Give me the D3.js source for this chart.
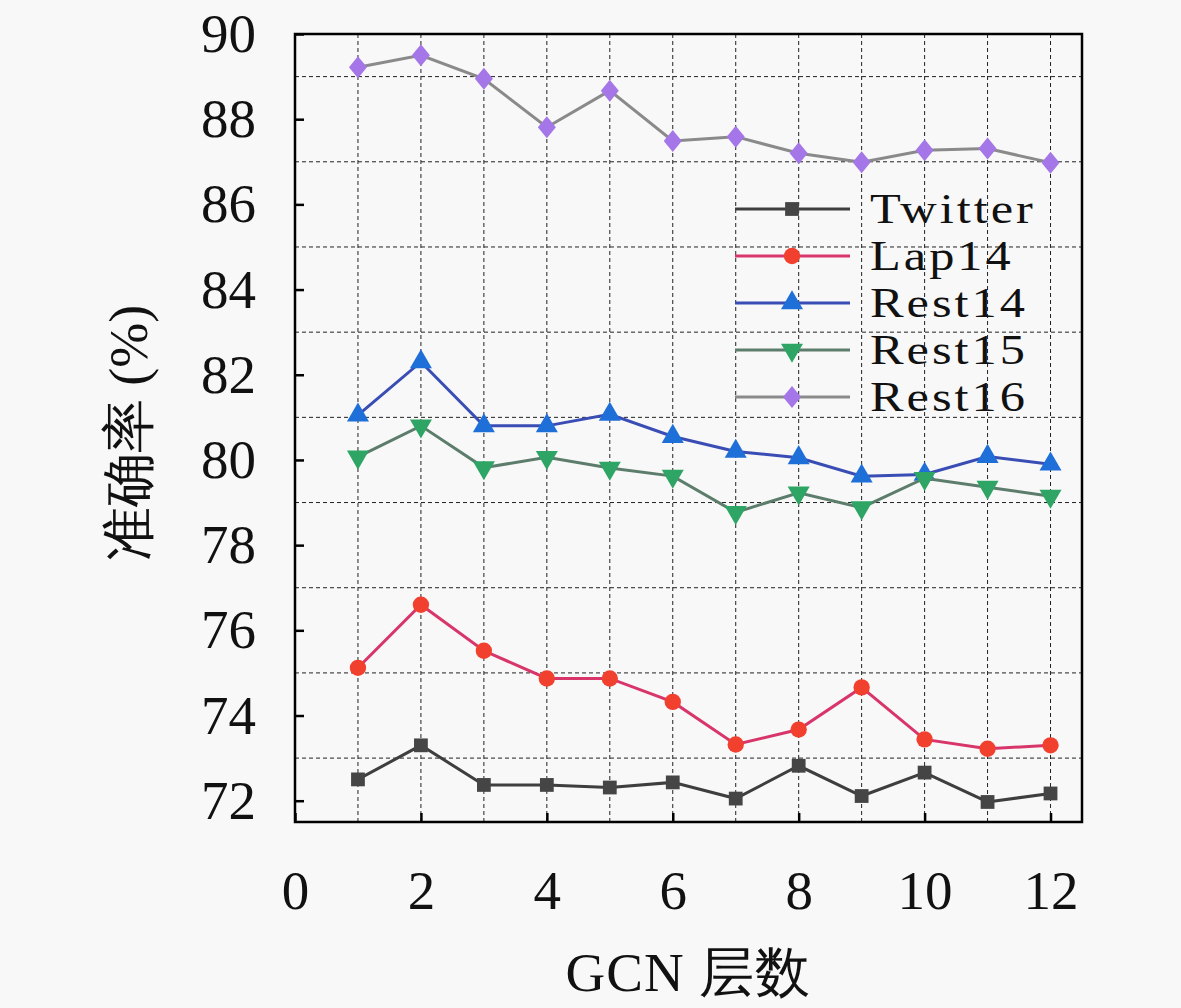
<!DOCTYPE html>
<html>
<head>
<meta charset="utf-8">
<script src="https://cdn.jsdelivr.net/npm/d3@7"></script>
<style>
  body { margin: 0; background: #f8f8f8; }
  svg { display: block; }
  text { font-family: "Liberation Serif", "DejaVu Serif", serif; fill: #111; }
</style>
</head>
<body>
<script>
// data
const layers = [1, 2, 3, 4, 5, 6, 7, 8, 9, 10, 11, 12];
const twitter = [72.50, 73.30, 72.37, 72.37, 72.31, 72.43, 72.05, 72.82, 72.11, 72.66, 71.97, 72.17];
const lap14   = [75.12, 76.60, 75.52, 74.87, 74.87, 74.32, 73.32, 73.67, 74.66, 73.44, 73.22, 73.30];
const rest14  = [81.05, 82.30, 80.80, 80.80, 81.07, 80.55, 80.20, 80.05, 79.62, 79.66, 80.08, 79.90];
const rest15  = [80.07, 80.80, 79.82, 80.06, 79.81, 79.62, 78.77, 79.23, 78.88, 79.57, 79.36, 79.15];
const rest16  = [89.22, 89.50, 88.95, 87.81, 88.67, 87.49, 87.59, 87.20, 86.99, 87.27, 87.31, 86.98];
const seriesNames = ['Twitter', 'Lap14', 'Rest14', 'Rest15', 'Rest16'];
const xTicks = [0, 2, 4, 6, 8, 10, 12];
const yTicks = [72, 74, 76, 78, 80, 82, 84, 86, 88, 90];

const W = 1181, H = 1008;
const margin = {top: 34, right: 99, bottom: 186, left: 295};
const width = W - margin.left - margin.right,
      height = H - margin.top - margin.bottom;

const series = [
  {name: seriesNames[0], values: twitter, line: '#3e3e3e', fill: '#454545', shape: 'square'},
  {name: seriesNames[1], values: lap14,   line: '#d8356a', fill: '#f2402f', shape: 'circle'},
  {name: seriesNames[2], values: rest14,  line: '#3a4db5', fill: '#1f6fd8', shape: 'up'},
  {name: seriesNames[3], values: rest15,  line: '#5d7d6c', fill: '#2ea565', shape: 'down'},
  {name: seriesNames[4], values: rest16,  line: '#8a8a8a', fill: '#a476e8', shape: 'diamond'},
];

const x = d3.scaleLinear().domain([0, 12.5]).range([0, width]);
const y = d3.scaleLinear().domain([71.5, 90]).range([height, 0]);

const svg = d3.select('body').append('svg')
  .attr('width', W).attr('height', H);
svg.append('rect').attr('width', W).attr('height', H).attr('fill', '#f8f8f8');

const g = svg.append('g')
  .attr('transform', 'translate(' + margin.left + ',' + margin.top + ')');

// dashed grid: every layer vertically, odd values horizontally
g.append('g').selectAll('line')
  .data(layers)
  .enter().append('line')
  .attr('x1', d => x(d)).attr('x2', d => x(d))
  .attr('y1', 0).attr('y2', height)
  .attr('stroke', '#222').attr('stroke-width', 1).attr('stroke-dasharray', '4,3');

g.append('g').selectAll('line')
  .data(d3.range(73, 90, 2))
  .enter().append('line')
  .attr('x1', 0).attr('x2', width)
  .attr('y1', d => y(d)).attr('y2', d => y(d))
  .attr('stroke', '#222').attr('stroke-width', 1).attr('stroke-dasharray', '4,3');

// axes with inward ticks
const xAxis = g.append('g')
  .attr('transform', 'translate(0,' + height + ')')
  .call(d3.axisBottom(x).tickValues(xTicks).tickSize(-9).tickPadding(48).tickFormat(d3.format('d')));
const yAxis = g.append('g')
  .call(d3.axisLeft(y).tickValues(yTicks).tickSize(-9).tickPadding(39).tickFormat(d3.format('d')));

[xAxis, yAxis].forEach(a => {
  a.select('.domain').remove();
  a.selectAll('.tick line').attr('stroke', '#000').attr('stroke-width', 2.5);
  a.selectAll('.tick text')
    .style('font-family', '"Liberation Serif", serif')
    .style('font-size', '55px').attr('fill', '#111');
});
xAxis.selectAll('.tick text').attr('dy', '0.71em');

// frame
g.append('rect')
  .attr('width', width).attr('height', height)
  .attr('fill', 'none').attr('stroke', '#000').attr('stroke-width', 2.5);

function symbolPath(shape) {
  if (shape === 'square') return d3.symbol(d3.symbolSquare, 190)();
  if (shape === 'circle') return d3.symbol(d3.symbolCircle, 210)();
  if (shape === 'up' || shape === 'down') return d3.symbol(d3.symbolTriangle, 210)();
  return 'M0,-11L9,0L0,11L-9,0Z'; // wide diamond
}
function symbolRotate(shape) {
  return shape === 'down' ? ' rotate(180)' : '';
}

const line = d3.line()
  .x((d, i) => x(layers[i]))
  .y(d => y(d));

series.forEach(s => {
  g.append('path')
    .datum(s.values)
    .attr('fill', 'none')
    .attr('stroke', s.line)
    .attr('stroke-width', 3)
    .attr('d', line);

  g.append('g').selectAll('path')
    .data(s.values)
    .enter().append('path')
    .attr('d', symbolPath(s.shape))
    .attr('transform', (d, i) => 'translate(' + x(layers[i]) + ',' + y(d) + ')' + symbolRotate(s.shape))
    .attr('fill', s.fill);
});

// legend (text stretched sideways so it reads wide like the original font)
const legend = g.append('g').attr('transform', 'translate(440,175)');
const rowH = 47;
series.forEach((s, i) => {
  const row = legend.append('g').attr('transform', 'translate(0,' + (i * rowH) + ')');
  row.append('line')
    .attr('x1', 0).attr('x2', 115)
    .attr('stroke', s.line).attr('stroke-width', 3);
  row.append('path')
    .attr('d', symbolPath(s.shape))
    .attr('transform', 'translate(57,0)' + symbolRotate(s.shape))
    .attr('fill', s.fill);
  row.append('text')
    .attr('transform', 'translate(135,0) scale(1.2,1)')
    .attr('dy', '0.33em')
    .style('font-size', '42px')
    .style('letter-spacing', '2.5px')
    .text(s.name);
});

// axis titles
svg.append('text')
  .attr('x', margin.left + width / 2)
  .attr('y', 991)
  .attr('text-anchor', 'middle')
  .style('font-size', '55px')
  .style('letter-spacing', '1px')
  .text('GCN 层数');

svg.append('text')
  .attr('transform', 'translate(147,' + (margin.top + height / 2 + 5) + ') rotate(-90)')
  .attr('text-anchor', 'middle')
  .style('font-size', '54px')
  .text('准确率 (%)');
</script>
</body>
</html>
